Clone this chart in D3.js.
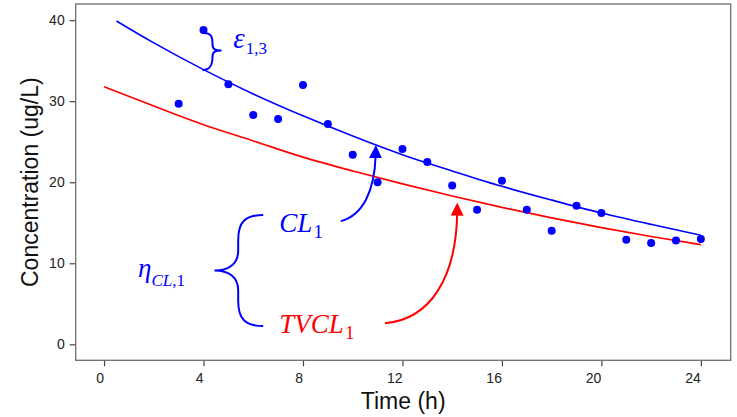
<!DOCTYPE html>
<html>
<head>
<meta charset="utf-8">
<script src="https://cdn.jsdelivr.net/npm/d3@7"></script>
<style>
  body { margin: 0; background: #fff; }
  svg text { font-family: "Liberation Sans", Arial, sans-serif; }
  .math { font-family: "Liberation Serif", "DejaVu Serif", serif; }
</style>
</head>
<body>
<div id="chart"></div>
<script>
// observed concentrations
var obsTime = [3, 4, 5, 6, 7, 8, 9, 10, 11, 12, 13, 14, 15, 16, 17, 18, 19, 20, 21, 22, 23, 24];
var obsConc = [29.7, 38.8, 32.1, 28.3, 27.8, 32.0, 27.2, 23.4, 20.0, 24.1, 22.5, 19.6, 16.6, 20.2, 16.6, 14.0, 17.1, 16.2, 12.9, 12.5, 12.8, 13.0];

// individual prediction (blue)
var indTime = [0.5, 2, 4, 6, 8, 10, 12, 14, 16, 18, 20, 22, 24];
var indConc = [39.9, 37.2, 33.9, 30.9, 28.2, 25.7, 23.4, 21.4, 19.5, 17.8, 16.2, 14.8, 13.45];

// typical value prediction (red)
var popTime = [0, 2, 4, 6, 8, 10, 12, 14, 16, 18, 20, 22, 24];
var popConc = [31.8, 29.4, 27.1, 25.1, 23.1, 21.4, 19.8, 18.3, 16.9, 15.6, 14.4, 13.3, 12.3];

var xTicks = [0, 4, 8, 12, 16, 20, 24];
var yTicks = [0, 10, 20, 30, 40];

var W = 737, H = 417;
var margin = {top: 4, right: 6.3, bottom: 56.7, left: 75.7};
var w = W - margin.left - margin.right;
var h = H - margin.top - margin.bottom;

var blue = "#0000ff", red = "#ff0000";

var svg = d3.select("#chart").append("svg")
  .attr("width", W)
  .attr("height", H);

var g = svg.append("g")
  .attr("transform", "translate(" + margin.left + "," + margin.top + ")");

var x = d3.scaleLinear().domain([-1.14, 25.2]).range([0, w]);
var y = d3.scaleLinear().domain([-1.975, 42.0]).range([h, 0]);

//axes
var xAxis = d3.axisBottom(x).tickValues(xTicks).tickSize(6).tickPadding(7);
var yAxis = d3.axisLeft(y).tickValues(yTicks).tickSize(6).tickPadding(5);

var gx = g.append("g")
  .attr("transform", "translate(0," + h + ")")
  .call(xAxis);
var gy = g.append("g").call(yAxis);

[gx, gy].forEach(function (ax) {
  ax.select(".domain").remove();
  ax.selectAll(".tick line").attr("stroke", "#444").attr("stroke-width", 1.2);
  ax.selectAll(".tick text")
    .attr("fill", "#222")
    .style("font-size", "14px");
});
// labels in the reference sit just left of their ticks
gx.selectAll(".tick text").attr("text-anchor", "end").attr("dx", "-0.5");

// frame
g.append("rect")
  .attr("width", w)
  .attr("height", h)
  .attr("fill", "none")
  .attr("stroke", "#6e6e6e")
  .attr("stroke-width", 1.3);

// titles
svg.append("text")
  .attr("x", margin.left + w / 2)
  .attr("y", 409)
  .attr("text-anchor", "middle")
  .style("font-size", "23px")
  .attr("fill", "#111")
  .text("Time (h)");

svg.append("text")
  .attr("transform", "translate(38," + (margin.top + h / 2) + ") rotate(-90)")
  .attr("text-anchor", "middle")
  .style("font-size", "23px")
  .attr("fill", "#111")
  .text("Concentration (ug/L)");

// curves
var line = d3.line()
  .x(function (d) { return x(d[0]); })
  .y(function (d) { return y(d[1]); })
  .curve(d3.curveNatural);

g.append("path")
  .datum(d3.zip(popTime, popConc))
  .attr("d", line)
  .attr("fill", "none")
  .attr("stroke", red)
  .attr("stroke-width", 1.6);

g.append("path")
  .datum(d3.zip(indTime, indConc))
  .attr("d", line)
  .attr("fill", "none")
  .attr("stroke", blue)
  .attr("stroke-width", 1.6);

// points
g.selectAll("circle.obs")
  .data(d3.zip(obsTime, obsConc))
  .enter()
  .append("circle")
  .attr("class", "obs")
  .attr("cx", function (d) { return x(d[0]); })
  .attr("cy", function (d) { return y(d[1]); })
  .attr("r", 4)
  .attr("fill", blue);

// arrow heads
var defs = svg.append("defs");
[["headBlue", blue], ["headRed", red]].forEach(function (m) {
  defs.append("marker")
    .attr("id", m[0])
    .attr("viewBox", "0 0 10 10")
    .attr("refX", 2)
    .attr("refY", 5)
    .attr("markerWidth", 6.5)
    .attr("markerHeight", 6.5)
    .attr("orient", "auto")
    .attr("markerUnits", "strokeWidth")
    .append("path")
    .attr("d", "M0,0 L10,5 L0,10 z")
    .attr("fill", m[1]);
});

var ann = g.append("g").attr("fill", "none").attr("stroke-width", 2);

// epsilon brace between obs at t=4 and blue curve
var ex = x(4), ey1 = y(38.8) + 3, ey2 = y(33.9) + 0.5;
var em = (ey1 + ey2) / 2 - 1;
ann.append("path")
  .attr("stroke", blue)
  .attr("d", "M" + (ex) + "," + ey1 +
    " C" + (ex + 8) + "," + ey1 + " " + (ex + 9) + "," + (ey1 + 4) + " " + (ex + 9) + "," + (em - 6) +
    " C" + (ex + 9) + "," + (em - 1) + " " + (ex + 12) + "," + em + " " + (ex + 18) + "," + em +
    " C" + (ex + 12) + "," + em + " " + (ex + 9) + "," + (em + 1) + " " + (ex + 9) + "," + (em + 6) +
    " C" + (ex + 9) + "," + (ey2 - 4) + " " + (ex + 6) + "," + ey2 + " " + (ex - 1) + "," + ey2);

// big brace for eta
var bx = x(6.4), bTop = y(15.95), bBot = y(2.25), bTip = x(4.44), bMid = (bTop + bBot) / 2;
ann.append("path")
  .attr("stroke", blue)
  .attr("d", "M" + bx + "," + bTop +
    " C" + (bx - 18) + "," + bTop + " " + (bx - 25) + "," + (bTop + 7) + " " + (bx - 25) + "," + (bTop + 25) +
    " L" + (bx - 25) + "," + (bMid - 20) +
    " C" + (bx - 25) + "," + (bMid - 6) + " " + (bx - 35) + "," + bMid + " " + bTip + "," + bMid +
    " C" + (bx - 35) + "," + bMid + " " + (bx - 25) + "," + (bMid + 6) + " " + (bx - 25) + "," + (bMid + 20) +
    " L" + (bx - 25) + "," + (bBot - 25) +
    " C" + (bx - 25) + "," + (bBot - 7) + " " + (bx - 18) + "," + bBot + " " + bx + "," + bBot);

// arrow CL1 -> blue curve
var a1 = [x(9.52), y(15.2)], t1 = [x(10.92), y(23.3)];
ann.append("path")
  .attr("stroke", blue)
  .attr("marker-end", "url(#headBlue)")
  .attr("d", "M" + a1[0] + "," + a1[1] +
    " C" + (a1[0] + 22) + "," + (a1[1] - 6) + " " + (t1[0] - 1) + "," + (a1[1] - 30) + " " + t1[0] + "," + t1[1]);

// arrow TVCL1 -> red curve
var a2 = [x(11.3), y(2.6)], t2 = [x(14.2), y(16.2)];
ann.append("path")
  .attr("stroke", red)
  .attr("marker-end", "url(#headRed)")
  .attr("d", "M" + a2[0] + "," + a2[1] +
    " C" + (a2[0] + 45) + "," + (a2[1] - 4) + " " + (t2[0] - 1) + "," + (a2[1] - 45) + " " + t2[0] + "," + t2[1]);

// math labels
function mathLabel(tx, ty, col, size, parts) {
  var t = g.append("text")
    .attr("class", "math")
    .attr("x", x(tx))
    .attr("y", y(ty))
    .attr("fill", col)
    .style("font-size", size + "px");
  parts.forEach(function (p) {
    t.append("tspan")
      .attr("dy", p.dy || 0)
      .style("font-style", p.it ? "italic" : "normal")
      .style("font-size", p.size ? p.size + "px" : null)
      .attr("dx", p.dx || 0)
      .text(p.s);
  });
}

mathLabel(5.2, 36.6, blue, 29, [
  {s: "\u03b5", it: true},
  {s: "1,3", size: 17, dy: 6, dx: 1}
]);
mathLabel(1.37, 8.35, blue, 27, [
  {s: "\u03b7", it: true},
  {s: "CL", it: true, size: 17, dy: 9},
  {s: ",1", size: 17}
]);
mathLabel(7.05, 13.9, blue, 27, [
  {s: "CL", it: true},
  {s: "1", size: 19, dy: 6, dx: 1}
]);
mathLabel(7.05, 1.36, red, 27, [
  {s: "TVCL", it: true},
  {s: "1", size: 19, dy: 6, dx: 1}
]);
</script>
</body>
</html>
